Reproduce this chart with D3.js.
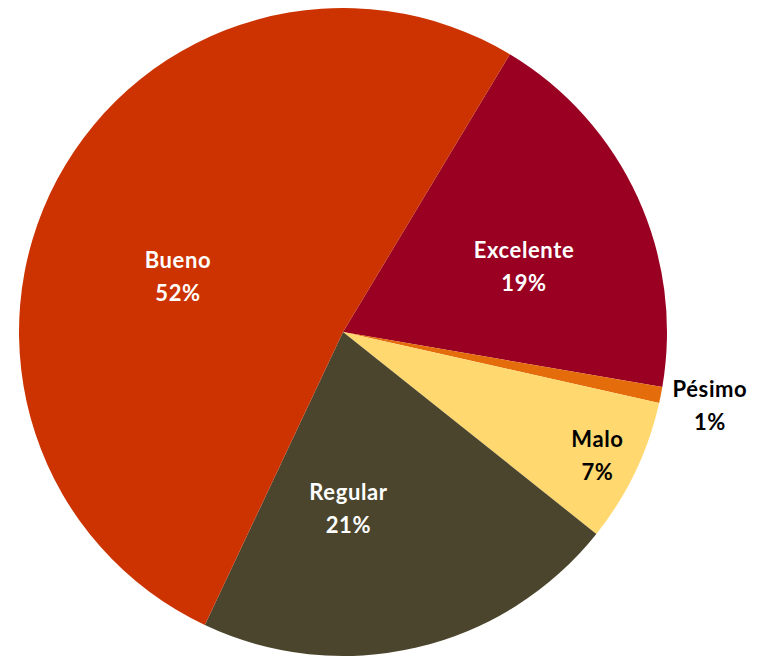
<!DOCTYPE html>
<html>
<head>
<meta charset="utf-8">
<script src="https://cdn.jsdelivr.net/npm/d3@7"></script>
<style>
  body { margin: 0; background: #fff; }
  text { font-family: Lato, "Open Sans", sans-serif; font-weight: bold; }
</style>
</head>
<body>
<div id="pie"></div>
<script>
// slice order goes clockwise from the Excelente edge
var categories = ["Excelente", "Pésimo", "Malo", "Regular", "Bueno"];
var values = [19.1, 0.8, 7.2, 21.3, 51.6];
var pctLabels = ["19%", "1%", "7%", "21%", "52%"];
var colors = ["#990022", "#E46C0A", "#FFD96F", "#4B452D", "#CC3300"];
var textColors = ["#fff", "#000", "#000", "#fff", "#fff"];

// label placement: angle (deg from 12 o'clock) and distance as a fraction of radius
var labelAngle = [69.1, 100.8, 115.2, 178.2, 289.7];
var labelDist = [0.598, 1.153, 0.868, 0.534, 0.541];

var width = 769, height = 657;
var cx = 343, cy = 332, radius = 324;
var startDeg = 31;

var svg = d3.select("#pie")
    .append("svg")
    .attr("width", width)
    .attr("height", height)
    .append("g")
    .attr("transform", "translate(" + cx + "," + cy + ")");

var data = categories.map(function(c, i) { return { name: c, value: values[i], i: i }; });

var pie = d3.pie()
    .sort(null)
    .value(function(d) { return d.value; })
    .startAngle(startDeg * Math.PI / 180)
    .endAngle((startDeg + 360) * Math.PI / 180);

var arc = d3.arc()
    .innerRadius(0)
    .outerRadius(radius);

svg.selectAll("path")
    .data(pie(data))
    .enter()
    .append("path")
    .attr("d", arc)
    .style("fill", function(d) { return colors[d.data.i]; });

var lbl = svg.selectAll(".lbl")
    .data(data)
    .enter()
    .append("text")
    .attr("class", "lbl")
    .attr("text-anchor", "middle")
    .style("font-size", "22px")
    .style("letter-spacing", "0.6px")
    .style("fill", function(d) { return textColors[d.i]; })
    .attr("transform", function(d) {
      var a = labelAngle[d.i] * Math.PI / 180;
      var r = labelDist[d.i] * radius;
      return "translate(" + (r * Math.sin(a)) + "," + (-r * Math.cos(a)) + ")";
    });

lbl.append("tspan")
    .attr("x", 0)
    .attr("y", -5)
    .text(function(d) { return d.name; });

lbl.append("tspan")
    .attr("x", 0)
    .attr("y", 28)
    .text(function(d) { return pctLabels[d.i]; });
</script>
</body>
</html>
